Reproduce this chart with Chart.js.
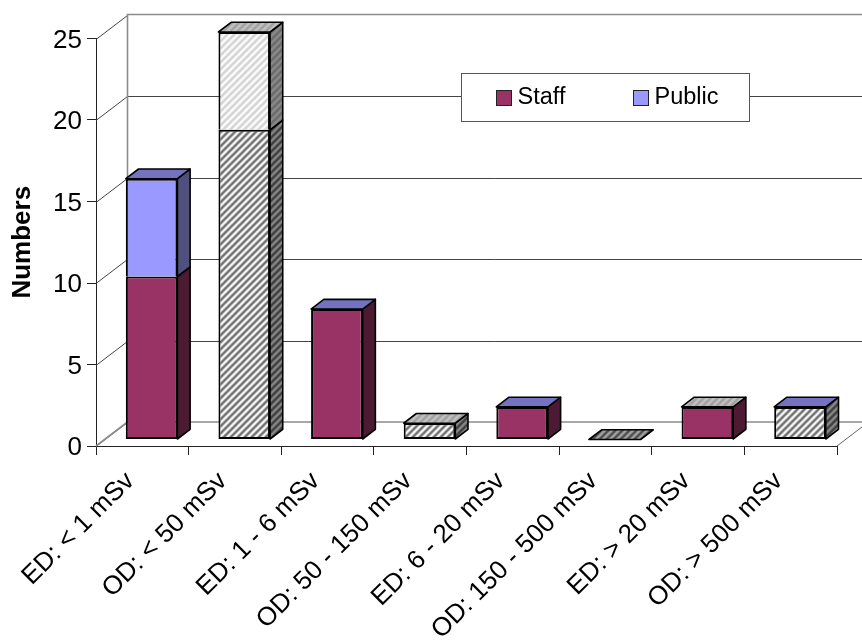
<!DOCTYPE html>
<html>
<head>
<meta charset="utf-8">
<style>
  html, body { margin: 0; padding: 0; background: #fff; }
  canvas { display: block; }
</style>
<script src="https://cdn.jsdelivr.net/npm/chart.js@4"></script>
</head>
<body>
<canvas id="chart" width="862" height="642"></canvas>
<script>
// Dose bands and the number of people recorded in each.
const categories = ['ED: < 1 mSv', 'OD: < 50 mSv', 'ED: 1 - 6 mSv', 'OD: 50 - 150 mSv',
                    'ED: 6 - 20 mSv', 'OD: 150 - 500 mSv', 'ED: > 20 mSv', 'OD: > 500 mSv'];
const staffValues  = [10, 19, 8, 1, 2, 0, 2, 2];
const publicValues = [6, 6, 0, 0, 0, 0, 0, 0];
const yTicks = [0, 5, 10, 15, 20, 25];

const FONT = '"Liberation Sans", Arial, sans-serif';

// Diagonal stripe fill, tiled from a small square.
function hatch(stripe, ground) {
  const size = 7;
  const tile = document.createElement('canvas');
  tile.width = tile.height = size;
  const c = tile.getContext('2d');
  c.fillStyle = ground;
  c.fillRect(0, 0, size, size);
  c.strokeStyle = stripe;
  c.lineWidth = 2.6;
  c.beginPath();
  c.moveTo(-1, size + 1); c.lineTo(size + 1, -1);
  c.moveTo(-2, 2); c.lineTo(2, -2);
  c.moveTo(size - 2, size + 2); c.lineTo(size + 2, size - 2);
  c.stroke();
  return c.createPattern(tile, 'repeat');
}

const STAFF = { front: '#993366', side: '#4d1a33', top: '#733357' };
const PUBLIC = { front: '#9999ff', side: '#50507f', top: '#7373bf' };
const DARK_HATCH = { front: hatch('#6c6c6c', '#ffffff'), side: hatch('#3c3c3c', '#8c8c8c'), top: hatch('#4c4c4c', '#a8a8a8') };
const LIGHT_HATCH = { front: hatch('#d2d2d2', '#ffffff'), side: hatch('#6a6a6a', '#8c8c8c'), top: hatch('#a0a0a0', '#c4c4c4') };

// Face styles per category for the lower and upper parts of each stack.
const lowerStyles = [STAFF, DARK_HATCH, STAFF, DARK_HATCH, STAFF, DARK_HATCH, STAFF, DARK_HATCH];
const upperStyles = [PUBLIC, LIGHT_HATCH, PUBLIC, LIGHT_HATCH, PUBLIC, DARK_HATCH, LIGHT_HATCH, PUBLIC];

// Box projection: how far the walls recede and where the bars stand on the floor.
const WALL_DX = 31.5, WALL_DY = -24;
const BAR_DX = 9.3, BAR_DY = -6.5;
const DEPTH_DX = 12.7, DEPTH_DY = -9.7;

const walls = {
  id: 'walls',
  beforeDatasetsDraw(chart) {
    const { ctx, chartArea: a, scales: { y } } = chart;
    const backLeft = a.left + WALL_DX;
    ctx.save();
    ctx.lineWidth = 1;
    ctx.strokeStyle = '#444444';
    yTicks.forEach(t => {
      const py = Math.round(y.getPixelForValue(t)) + 0.5;
      ctx.beginPath();
      ctx.moveTo(a.left, py);
      ctx.lineTo(backLeft, py + WALL_DY);
      if (t !== 0 && t !== 25) ctx.lineTo(chart.width, py + WALL_DY);
      ctx.stroke();
    });
    const floor = y.getPixelForValue(0), top = y.getPixelForValue(25);
    ctx.strokeStyle = '#8c8c8c';
    ctx.lineWidth = 1.6;
    ctx.beginPath();
    ctx.moveTo(backLeft, floor + WALL_DY); ctx.lineTo(backLeft, top + WALL_DY); ctx.lineTo(chart.width, top + WALL_DY);
    ctx.moveTo(backLeft, floor + WALL_DY); ctx.lineTo(chart.width, floor + WALL_DY);
    ctx.moveTo(a.left, floor); ctx.lineTo(backLeft, floor + WALL_DY);
    ctx.stroke();
    ctx.lineWidth = 1;
    ctx.strokeStyle = '#666666';
    ctx.beginPath();
    ctx.moveTo(a.right, floor); ctx.lineTo(a.right + WALL_DX, floor + WALL_DY);
    ctx.stroke();
    ctx.restore();
  }
};

// Side and top faces are added around the library's front rectangles.
function face(ctx, points, fill) {
  ctx.beginPath();
  points.forEach((p, i) => i ? ctx.lineTo(p[0], p[1]) : ctx.moveTo(p[0], p[1]));
  ctx.closePath();
  ctx.fillStyle = fill;
  ctx.fill();
  ctx.stroke();
}

const depth = {
  id: 'depth',
  beforeDatasetsDraw(chart) {
    const { ctx } = chart;
    ctx.save();
    ctx.translate(BAR_DX, BAR_DY);
    ctx.lineWidth = 1.6;
    ctx.strokeStyle = '#000';
    ctx.lineJoin = 'round';
    const lower = chart.getDatasetMeta(0).data, upper = chart.getDatasetMeta(1).data;
    categories.forEach((_, i) => {
      const right = lower[i].x + lower[i].width / 2;
      const left = lower[i].x - lower[i].width / 2;
      const base = lower[i].base, mid = lower[i].y, tip = upper[i].y;
      const side = (y0, y1, fill) => face(ctx, [[right, y0], [right + DEPTH_DX, y0 + DEPTH_DY],
        [right + DEPTH_DX, y1 + DEPTH_DY], [right, y1]], fill);
      if (base - mid > 0) side(base, mid, lowerStyles[i].side);
      if (mid - tip > 0) side(mid, tip, upperStyles[i].side);
      face(ctx, [[left, tip], [left + DEPTH_DX, tip + DEPTH_DY],
        [right + DEPTH_DX, tip + DEPTH_DY], [right, tip]], upperStyles[i].top);
    });
  },
  afterDatasetsDraw(chart) {
    chart.ctx.restore();
  }
};

const boxedLegend = {
  id: 'boxedLegend',
  afterDatasetsDraw(chart) {
    const { ctx } = chart;
    ctx.save();
    ctx.fillStyle = '#fff';
    ctx.strokeStyle = '#555555';
    ctx.lineWidth = 1;
    ctx.fillRect(461, 73, 288, 48);
    ctx.strokeRect(461.5, 73.5, 288, 48);
    ctx.font = '23.5px ' + FONT;
    ctx.textBaseline = 'middle';
    chart.data.datasets.forEach((ds, i) => {
      const x = i === 0 ? 496.5 : 633.5;
      ctx.fillStyle = i === 0 ? STAFF.front : PUBLIC.front;
      ctx.fillRect(x, 90.5, 15, 15);
      ctx.strokeStyle = '#222';
      ctx.strokeRect(x, 90.5, 15, 15);
      ctx.fillStyle = '#000';
      ctx.fillText(ds.label, x + 21, 98);
    });
    ctx.restore();
  }
};

new Chart(document.getElementById('chart'), {
  type: 'bar',
  data: {
    labels: categories,
    datasets: [
      { label: 'Staff', data: staffValues, backgroundColor: lowerStyles.map(s => s.front),
        borderWidth: 2 },
      { label: 'Public', data: publicValues, backgroundColor: upperStyles.map(s => s.front),
        borderWidth: { top: 2, left: 2, right: 2, bottom: 0 } }
    ]
  },
  plugins: [walls, depth, boxedLegend],
  options: {
    responsive: false,
    animation: false,
    layout: { autoPadding: false, padding: { top: 38.5, right: 25, left: 0, bottom: 0 } },
    plugins: { legend: { display: false }, tooltip: { enabled: false }, title: { display: false } },
    datasets: {
      bar: {
        clip: false,
        categoryPercentage: 1,
        barPercentage: 0.557,
        borderColor: '#000',
        borderSkipped: false
      }
    },
    scales: {
      x: {
        stacked: true,
        offset: true,
        afterFit(scale) { scale.height = 196; },
        grid: { offset: true, drawOnChartArea: false, drawTicks: true, tickLength: 9, tickColor: '#222', tickWidth: 1 },
        border: { display: true, color: '#222', width: 1 },
        ticks: {
          autoSkip: false, minRotation: 45, maxRotation: 45, padding: 11, labelOffset: -12,
          color: '#000', font: { family: FONT, size: 26 }
        }
      },
      y: {
        stacked: true,
        min: 0,
        max: 25,
        afterFit(scale) { scale.width = 96; },
        grid: { drawOnChartArea: false, drawTicks: true, tickLength: 9, tickColor: '#222', tickWidth: 1 },
        border: { display: true, color: '#222', width: 1 },
        ticks: {
          stepSize: 5, padding: 5, labelOffset: 2, color: '#000', font: { family: FONT, size: 26 }
        },
        title: {
          display: true, text: 'Numbers', color: '#000',
          font: { family: FONT, size: 26, weight: 'bold' },
          padding: { top: 7, bottom: 0 }
        }
      }
    }
  }
});
</script>
</body>
</html>
